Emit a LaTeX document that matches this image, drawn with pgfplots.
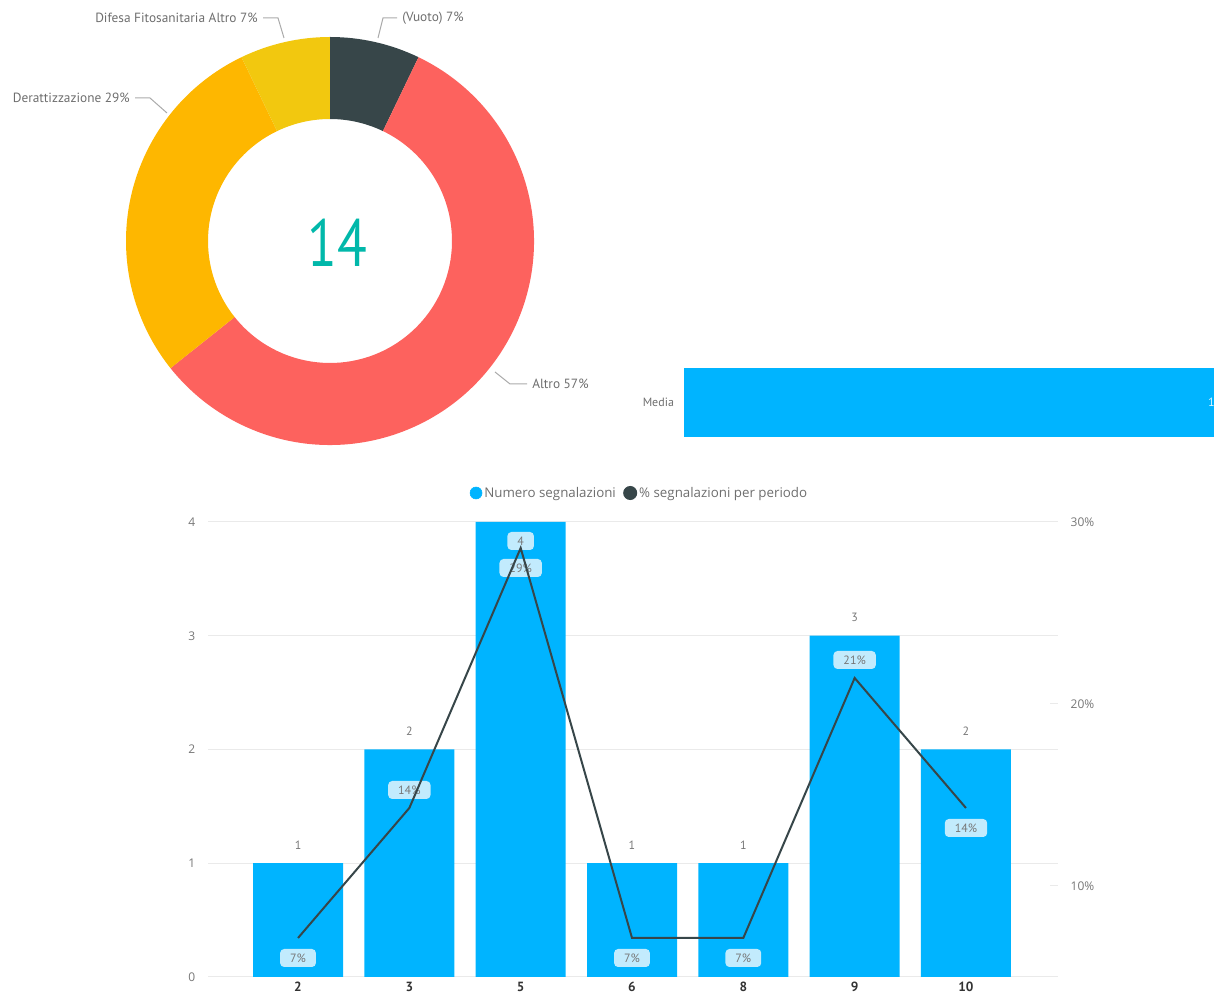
\documentclass[border=0pt]{standalone}
\usepackage{fontspec}
\setmainfont{PT Sans}
\newfontfamily\seg{Open Sans}
\usepackage{graphicx}
\usepackage{pgfplots}
\pgfplotsset{compat=1.18}
\definecolor{cdark}{HTML}{374649}
\definecolor{cred}{HTML}{FD625E}
\definecolor{corange}{HTML}{FEB700}
\definecolor{cyellow}{HTML}{F2C80F}
\definecolor{bblue}{HTML}{00B4FF}
\definecolor{boxblue}{HTML}{C2EBFD}
\definecolor{cteal}{HTML}{01B8AA}
\definecolor{ctext}{HTML}{6E6E6E}
\definecolor{ctick}{HTML}{777777}
\definecolor{cgrid}{HTML}{EAEAEA}
\definecolor{clead}{HTML}{AAAAAA}
\definecolor{cxt}{HTML}{333333}
% pie data: (Vuoto) 1, Altro 8, Derattizzazione 4, Difesa Fitosanitaria Altro 1 (total 14)
\pgfmathsetmacro\aA{90}
\pgfmathsetmacro\aB{\aA-1/14*360}
\pgfmathsetmacro\aC{\aB-8/14*360}
\pgfmathsetmacro\aD{\aC-4/14*360}
\pgfmathsetmacro\aE{\aD-1/14*360}
\def\Ro{153pt}\def\Ri{91.5pt}\def\rr{0.598}
\newcommand\slice[3]{\fill[#1] (axis cs:{cos(#2)},{sin(#2)}) arc[start angle=#2, end angle=#3, radius=\Ro] -- (axis cs:{\rr*cos(#3)},{\rr*sin(#3)}) arc[start angle=#3, end angle=#2, radius=\Ri] -- cycle;}
\begin{document}%
\setbox0=\hbox{%
\begin{tikzpicture}
\path (-75pt,-75pt) rectangle (985.5pt,822pt);
\clip (0,0) rectangle (910.5pt,747pt);
\tikzset{pbox/.style={fill=boxblue, rounded corners=3pt, inner xsep=7.5pt, minimum height=13.5pt, inner ysep=0pt, text=ctick, font=\fontsize{9}{10}\selectfont},
  vlab/.style={text=ctick, font=\fontsize{9}{10}\selectfont, inner sep=0pt}}
% ---------- donut ----------
\begin{axis}[at={(247.5pt,566.25pt)}, anchor=center, scale only axis, width=306pt, height=306pt,
  hide axis, xmin=-1, xmax=1, ymin=-1, ymax=1, clip=false]
\slice{cdark}{\aA}{\aB}
\slice{cred}{\aB}{\aC}
\slice{corange}{\aC}{\aD}
\slice{cyellow}{\aD}{\aE}
\end{axis}
\begin{scope}[x=0.75pt,y=0.75pt]
\node[text=cteal, font=\fontsize{50}{52}\selectfont, inner sep=0pt] at (337,753) {\scalebox{0.82}[1]{14}};
\begin{scope}[every node/.style={text=ctext, font=\fontsize{10}{11}\selectfont, inner sep=0pt}]
\node[anchor=east] at (258,978) {Difesa Fitosanitaria Altro 7\%};
\node[anchor=west] at (402,978) {(Vuoto) 7\%};
\node[anchor=east] at (130,898) {Derattizzazione 29\%};
\node[anchor=west] at (532,612) {Altro 57\%};
\end{scope}
\begin{scope}[draw=clead, line width=0.75pt]
\draw (263,978) -- (278,978) -- (284,958);
\draw (378,958) -- (383,978) -- (397,978);
\draw (135,898) -- (150,898) -- (167,883);
\draw (495,624) -- (510,612) -- (527,612);
\end{scope}
\end{scope}
% ---------- Media bar ----------
\begin{axis}[at={(513pt,419.25pt)}, anchor=south west, scale only axis, width=406.5pt, height=51.75pt,
  xmin=0, xmax=14, ymin=0.5, ymax=1.5, xbar, bar width=51.75pt,
  hide x axis, y axis line style={draw=none}, ytick={1}, yticklabels={Media}, major tick length=0pt,
  yticklabel style={font=\fontsize{9}{10}\selectfont, text=ctext, xshift=-4pt},
  nodes near coords, point meta=x,
  nodes near coords style={anchor=east, text=white!85!bblue, font=\fontsize{9}{10}\selectfont},
  /pgf/number format/assume math mode=true, clip=false]
\addplot[fill=bblue, draw=none] coordinates {(14,1)};
\end{axis}
% ---------- combo chart: bars ----------
\begin{axis}[at={(156pt,14.25pt)}, anchor=south west, scale only axis, width=637.5pt, height=341.25pt,
  xmin=-0.8086, xmax=6.8266, ymin=0, ymax=4,
  ybar, bar width=67.5pt,
  xtick={0,...,6}, xticklabels={2,3,5,6,8,9,10},
  ytick={0,1,2,3,4}, yticklabels={0,1,2,3,4},
  ymajorgrids, grid style={draw=cgrid, line width=0.75pt},
  axis line style={draw=none}, major tick length=0pt,
  yticklabel style={font=\seg\fontsize{9}{10}\selectfont, text=ctick, xshift=-6pt},
  xticklabel style={font=\bfseries\fontsize{10}{11}\selectfont, text=cxt},
  clip=false]
\addplot[fill=bblue, draw=none] coordinates {(0,1) (1,2) (2,4) (3,1) (4,1) (5,3) (6,2)};
\node[vlab, yshift=13.5pt] at (axis cs:0,1) {1};
\node[vlab, yshift=13.5pt] at (axis cs:1,2) {2};
\node[pbox, yshift=-14.25pt] at (axis cs:2,4) {4};
\node[vlab, yshift=13.5pt] at (axis cs:3,1) {1};
\node[vlab, yshift=13.5pt] at (axis cs:4,1) {1};
\node[vlab, yshift=13.5pt] at (axis cs:5,3) {3};
\node[vlab, yshift=13.5pt] at (axis cs:6,2) {2};
\end{axis}
% ---------- combo chart: line ----------
\begin{axis}[at={(156pt,14.25pt)}, anchor=south west, scale only axis, width=637.5pt, height=341.25pt,
  xmin=-0.8086, xmax=6.8266, ymin=5, ymax=30,
  hide x axis, axis y line*=right, axis line style={draw=none},
  ytick={10,20,30}, yticklabels={10\%,20\%,30\%},
  tick align=inside, major tick length=6pt, ytick style={draw=cgrid, line width=0.75pt},
  yticklabel style={font=\seg\fontsize{9}{10}\selectfont, text=ctick, xshift=6pt},
  legend columns=2,
  legend style={at={(0.5076,1)}, anchor=center, yshift=21.75pt, draw=none, fill=none,
    font=\seg\fontsize{10}{11}\selectfont, text=ctext, inner sep=0pt,
    nodes={inner xsep=1.5pt}, /tikz/every even column/.append style={column sep=4pt}},
  clip=false]
\node[pbox, yshift=-15pt] at (axis cs:0,7.142857) {7\%};
\node[pbox, yshift=13.5pt] at (axis cs:1,14.285714) {14\%};
\node[pbox, yshift=-15pt] at (axis cs:2,28.571429) {29\%};
\node[pbox, yshift=-15pt] at (axis cs:3,7.142857) {7\%};
\node[pbox, yshift=-15pt] at (axis cs:4,7.142857) {7\%};
\node[pbox, yshift=13.5pt] at (axis cs:5,21.428571) {21\%};
\node[pbox, yshift=-15pt] at (axis cs:6,14.285714) {14\%};
\addlegendimage{legend image code/.code={\fill[bblue] (0pt,0pt) circle[radius=4.5pt];}}
\addlegendentry{Numero segnalazioni}
\addplot[cdark, line width=1.5pt, legend image code/.code={\fill[cdark] (0pt,0pt) circle[radius=4.5pt];}]
  coordinates {(0,7.142857) (1,14.285714) (2,28.571429) (3,7.142857) (4,7.142857) (5,21.428571) (6,14.285714)};
\addlegendentry{\% segnalazioni per periodo}
\end{axis}
\end{tikzpicture}}%
\makebox[910.5pt][l]{\hspace*{-75pt}\raisebox{-75pt}[747pt][0pt]{\box0}}%
\end{document}
